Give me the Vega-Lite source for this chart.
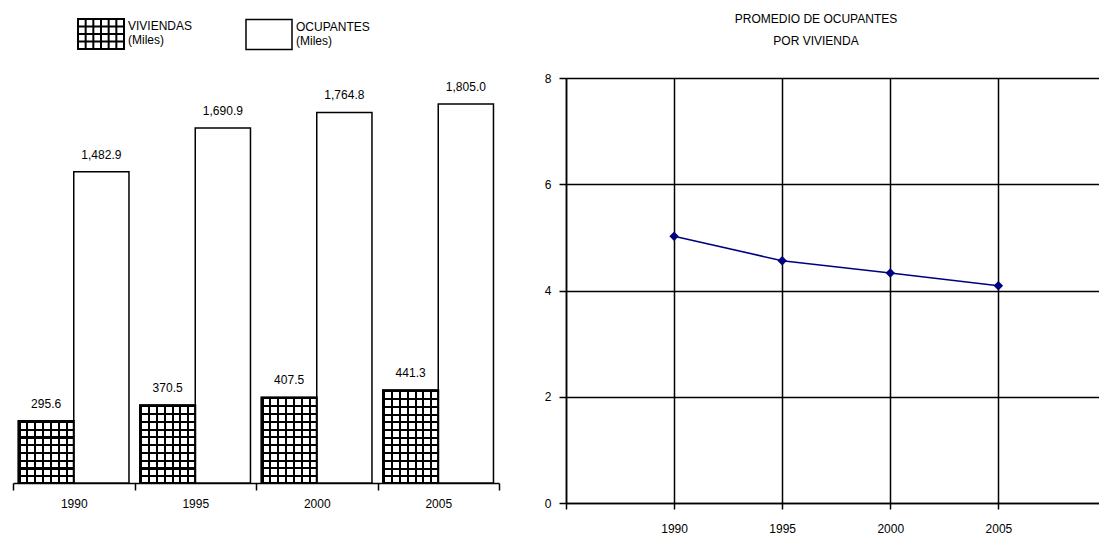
{
  "$schema": "https://vega.github.io/schema/vega-lite/v6.json",
  "padding": {"left": 12, "top": 13, "right": 0, "bottom": 0},
  "spacing": 67,
  "bounds": "flush",
  "config": {
    "font": "Liberation Sans",
    "view": {"stroke": null},
    "axis": {"labelFont": "Liberation Sans", "labelFontSize": 12, "labelColor": "black", "domainColor": "black", "tickColor": "black", "titleFont": "Liberation Sans"}
  },
  "hconcat": [
    {
      "width": 486,
      "height": 405,
      "data": {"values": [
        {"year": "1990", "serie": "VIVIENDAS", "value": 295.6},
        {"year": "1990", "serie": "OCUPANTES", "value": 1482.9},
        {"year": "1995", "serie": "VIVIENDAS", "value": 370.5},
        {"year": "1995", "serie": "OCUPANTES", "value": 1690.9},
        {"year": "2000", "serie": "VIVIENDAS", "value": 407.5},
        {"year": "2000", "serie": "OCUPANTES", "value": 1764.8},
        {"year": "2005", "serie": "VIVIENDAS", "value": 441.3},
        {"year": "2005", "serie": "OCUPANTES", "value": 1805.0}
      ]},
      "encoding": {
        "x": {"field": "year", "type": "nominal", "scale": {"paddingInner": 0, "paddingOuter": 0},
          "axis": {"title": null, "labelAngle": 0, "tickBand": "extent", "tickSize": 7, "labelPadding": 8, "domainWidth": 1.5, "tickWidth": 1.5}},
        "xOffset": {"field": "serie", "type": "nominal", "sort": ["VIVIENDAS", "OCUPANTES"], "scale": {"domain": ["VIVIENDAS", "OCUPANTES"], "paddingOuter": 0.1, "paddingInner": 0}},
        "y": {"field": "value", "type": "quantitative", "scale": {"domain": [0, 1929], "nice": false}, "axis": null}
      },
      "layer": [
        {
          "mark": {"type": "bar", "stroke": "black", "strokeWidth": 1.5},
          "encoding": {
            "fill": {"field": "serie", "type": "nominal", "scale": {"domain": ["VIVIENDAS", "OCUPANTES"], "range": ["white", "white"]},
              "legend": {
                "orient": "none", "legendX": 82, "legendY": -50, "direction": "horizontal", "columns": 2, "title": null,
                "symbolSize": 2116, "symbolStrokeColor": "black", "symbolStrokeWidth": 1.5,
                "labelExpr": "[datum.label, '(Miles)']", "labelFontSize": 12, "labelColor": "black", "labelOffset": 21, "columnPadding": 50, "labelLineHeight": 16,
                "encode": {
                  "symbols": {"update": {"shape": {"signal": "datum.value === 'VIVIENDAS' ? 'M-1,-0.65H1V0.65H-1Z M-0.667,-0.65V0.65 M-0.333,-0.65V0.65 M0,-0.65V0.65 M0.333,-0.65V0.65 M0.667,-0.65V0.65 M-1,-0.325H1 M-1,0H1 M-1,0.325H1' : 'M-1,-0.65H1V0.65H-1Z'"}, "strokeWidth": {"signal": "datum.value === 'VIVIENDAS' ? 2 : 1.5"}}},
                  "labels": {"update": {"dy": {"value": -8}}}
                }
              }
            }
          }
        },
        {
          "transform": [{"filter": "datum.serie === 'VIVIENDAS'"}],
          "mark": {"type": "bar", "strokeWidth": 0},
          "encoding": {
            "fill": {
              "condition": [
                {"test": "datum.year === '1990'", "value": {"gradient": "linear", "x1": 0, "y1": 0, "x2": 0, "y2": 1, "stops": [
                  {"offset": 0, "color": "black"}, {"offset": 0.033, "color": "black"}, {"offset": 0.033, "color": "rgba(0,0,0,0)"}, {"offset": 0.125, "color": "rgba(0,0,0,0)"},
                  {"offset": 0.125, "color": "black"}, {"offset": 0.158, "color": "black"}, {"offset": 0.158, "color": "rgba(0,0,0,0)"}, {"offset": 0.25, "color": "rgba(0,0,0,0)"},
                  {"offset": 0.25, "color": "black"}, {"offset": 0.283, "color": "black"}, {"offset": 0.283, "color": "rgba(0,0,0,0)"}, {"offset": 0.375, "color": "rgba(0,0,0,0)"},
                  {"offset": 0.375, "color": "black"}, {"offset": 0.408, "color": "black"}, {"offset": 0.408, "color": "rgba(0,0,0,0)"}, {"offset": 0.5, "color": "rgba(0,0,0,0)"},
                  {"offset": 0.5, "color": "black"}, {"offset": 0.533, "color": "black"}, {"offset": 0.533, "color": "rgba(0,0,0,0)"}, {"offset": 0.625, "color": "rgba(0,0,0,0)"},
                  {"offset": 0.625, "color": "black"}, {"offset": 0.658, "color": "black"}, {"offset": 0.658, "color": "rgba(0,0,0,0)"}, {"offset": 0.75, "color": "rgba(0,0,0,0)"},
                  {"offset": 0.75, "color": "black"}, {"offset": 0.783, "color": "black"}, {"offset": 0.783, "color": "rgba(0,0,0,0)"}, {"offset": 0.875, "color": "rgba(0,0,0,0)"},
                  {"offset": 0.875, "color": "black"}, {"offset": 0.908, "color": "black"}, {"offset": 0.908, "color": "rgba(0,0,0,0)"}, {"offset": 1, "color": "rgba(0,0,0,0)"}
                ]}},
                {"test": "datum.year === '1995'", "value": {"gradient": "linear", "x1": 0, "y1": 0, "x2": 0, "y2": 1, "stops": [
                  {"offset": 0, "color": "black"}, {"offset": 0.027, "color": "black"}, {"offset": 0.027, "color": "rgba(0,0,0,0)"}, {"offset": 0.1, "color": "rgba(0,0,0,0)"},
                  {"offset": 0.1, "color": "black"}, {"offset": 0.127, "color": "black"}, {"offset": 0.127, "color": "rgba(0,0,0,0)"}, {"offset": 0.2, "color": "rgba(0,0,0,0)"},
                  {"offset": 0.2, "color": "black"}, {"offset": 0.227, "color": "black"}, {"offset": 0.227, "color": "rgba(0,0,0,0)"}, {"offset": 0.3, "color": "rgba(0,0,0,0)"},
                  {"offset": 0.3, "color": "black"}, {"offset": 0.327, "color": "black"}, {"offset": 0.327, "color": "rgba(0,0,0,0)"}, {"offset": 0.4, "color": "rgba(0,0,0,0)"},
                  {"offset": 0.4, "color": "black"}, {"offset": 0.427, "color": "black"}, {"offset": 0.427, "color": "rgba(0,0,0,0)"}, {"offset": 0.5, "color": "rgba(0,0,0,0)"},
                  {"offset": 0.5, "color": "black"}, {"offset": 0.527, "color": "black"}, {"offset": 0.527, "color": "rgba(0,0,0,0)"}, {"offset": 0.6, "color": "rgba(0,0,0,0)"},
                  {"offset": 0.6, "color": "black"}, {"offset": 0.627, "color": "black"}, {"offset": 0.627, "color": "rgba(0,0,0,0)"}, {"offset": 0.7, "color": "rgba(0,0,0,0)"},
                  {"offset": 0.7, "color": "black"}, {"offset": 0.727, "color": "black"}, {"offset": 0.727, "color": "rgba(0,0,0,0)"}, {"offset": 0.8, "color": "rgba(0,0,0,0)"},
                  {"offset": 0.8, "color": "black"}, {"offset": 0.827, "color": "black"}, {"offset": 0.827, "color": "rgba(0,0,0,0)"}, {"offset": 0.9, "color": "rgba(0,0,0,0)"},
                  {"offset": 0.9, "color": "black"}, {"offset": 0.927, "color": "black"}, {"offset": 0.927, "color": "rgba(0,0,0,0)"}, {"offset": 1, "color": "rgba(0,0,0,0)"}
                ]}},
                {"test": "datum.year === '2000'", "value": {"gradient": "linear", "x1": 0, "y1": 0, "x2": 0, "y2": 1, "stops": [
                  {"offset": 0, "color": "black"}, {"offset": 0.024, "color": "black"}, {"offset": 0.024, "color": "rgba(0,0,0,0)"}, {"offset": 0.091, "color": "rgba(0,0,0,0)"},
                  {"offset": 0.091, "color": "black"}, {"offset": 0.115, "color": "black"}, {"offset": 0.115, "color": "rgba(0,0,0,0)"}, {"offset": 0.182, "color": "rgba(0,0,0,0)"},
                  {"offset": 0.182, "color": "black"}, {"offset": 0.206, "color": "black"}, {"offset": 0.206, "color": "rgba(0,0,0,0)"}, {"offset": 0.273, "color": "rgba(0,0,0,0)"},
                  {"offset": 0.273, "color": "black"}, {"offset": 0.297, "color": "black"}, {"offset": 0.297, "color": "rgba(0,0,0,0)"}, {"offset": 0.364, "color": "rgba(0,0,0,0)"},
                  {"offset": 0.364, "color": "black"}, {"offset": 0.388, "color": "black"}, {"offset": 0.388, "color": "rgba(0,0,0,0)"}, {"offset": 0.455, "color": "rgba(0,0,0,0)"},
                  {"offset": 0.455, "color": "black"}, {"offset": 0.479, "color": "black"}, {"offset": 0.479, "color": "rgba(0,0,0,0)"}, {"offset": 0.545, "color": "rgba(0,0,0,0)"},
                  {"offset": 0.545, "color": "black"}, {"offset": 0.569, "color": "black"}, {"offset": 0.569, "color": "rgba(0,0,0,0)"}, {"offset": 0.636, "color": "rgba(0,0,0,0)"},
                  {"offset": 0.636, "color": "black"}, {"offset": 0.66, "color": "black"}, {"offset": 0.66, "color": "rgba(0,0,0,0)"}, {"offset": 0.727, "color": "rgba(0,0,0,0)"},
                  {"offset": 0.727, "color": "black"}, {"offset": 0.751, "color": "black"}, {"offset": 0.751, "color": "rgba(0,0,0,0)"}, {"offset": 0.818, "color": "rgba(0,0,0,0)"},
                  {"offset": 0.818, "color": "black"}, {"offset": 0.842, "color": "black"}, {"offset": 0.842, "color": "rgba(0,0,0,0)"}, {"offset": 0.909, "color": "rgba(0,0,0,0)"},
                  {"offset": 0.909, "color": "black"}, {"offset": 0.933, "color": "black"}, {"offset": 0.933, "color": "rgba(0,0,0,0)"}, {"offset": 1, "color": "rgba(0,0,0,0)"}
                ]}},
                {"test": "datum.year === '2005'", "value": {"gradient": "linear", "x1": 0, "y1": 0, "x2": 0, "y2": 1, "stops": [
                  {"offset": 0, "color": "black"}, {"offset": 0.022, "color": "black"}, {"offset": 0.022, "color": "rgba(0,0,0,0)"}, {"offset": 0.083, "color": "rgba(0,0,0,0)"},
                  {"offset": 0.083, "color": "black"}, {"offset": 0.105, "color": "black"}, {"offset": 0.105, "color": "rgba(0,0,0,0)"}, {"offset": 0.167, "color": "rgba(0,0,0,0)"},
                  {"offset": 0.167, "color": "black"}, {"offset": 0.189, "color": "black"}, {"offset": 0.189, "color": "rgba(0,0,0,0)"}, {"offset": 0.25, "color": "rgba(0,0,0,0)"},
                  {"offset": 0.25, "color": "black"}, {"offset": 0.272, "color": "black"}, {"offset": 0.272, "color": "rgba(0,0,0,0)"}, {"offset": 0.333, "color": "rgba(0,0,0,0)"},
                  {"offset": 0.333, "color": "black"}, {"offset": 0.355, "color": "black"}, {"offset": 0.355, "color": "rgba(0,0,0,0)"}, {"offset": 0.417, "color": "rgba(0,0,0,0)"},
                  {"offset": 0.417, "color": "black"}, {"offset": 0.439, "color": "black"}, {"offset": 0.439, "color": "rgba(0,0,0,0)"}, {"offset": 0.5, "color": "rgba(0,0,0,0)"},
                  {"offset": 0.5, "color": "black"}, {"offset": 0.522, "color": "black"}, {"offset": 0.522, "color": "rgba(0,0,0,0)"}, {"offset": 0.583, "color": "rgba(0,0,0,0)"},
                  {"offset": 0.583, "color": "black"}, {"offset": 0.605, "color": "black"}, {"offset": 0.605, "color": "rgba(0,0,0,0)"}, {"offset": 0.667, "color": "rgba(0,0,0,0)"},
                  {"offset": 0.667, "color": "black"}, {"offset": 0.689, "color": "black"}, {"offset": 0.689, "color": "rgba(0,0,0,0)"}, {"offset": 0.75, "color": "rgba(0,0,0,0)"},
                  {"offset": 0.75, "color": "black"}, {"offset": 0.772, "color": "black"}, {"offset": 0.772, "color": "rgba(0,0,0,0)"}, {"offset": 0.833, "color": "rgba(0,0,0,0)"},
                  {"offset": 0.833, "color": "black"}, {"offset": 0.855, "color": "black"}, {"offset": 0.855, "color": "rgba(0,0,0,0)"}, {"offset": 0.917, "color": "rgba(0,0,0,0)"},
                  {"offset": 0.917, "color": "black"}, {"offset": 0.939, "color": "black"}, {"offset": 0.939, "color": "rgba(0,0,0,0)"}, {"offset": 1, "color": "rgba(0,0,0,0)"}
                ]}}
              ],
              "value": "rgba(0,0,0,0)"
            }
          }
        },
        {
          "transform": [{"filter": "datum.serie === 'VIVIENDAS'"}],
          "mark": {"type": "bar", "stroke": "black", "strokeWidth": 2, "fill": {"gradient": "linear", "x1": 0, "y1": 0, "x2": 1, "y2": 0, "stops": [
            {"offset": 0, "color": "black"}, {"offset": 0.036, "color": "black"}, {"offset": 0.036, "color": "rgba(0,0,0,0)"}, {"offset": 0.143, "color": "rgba(0,0,0,0)"},
            {"offset": 0.143, "color": "black"}, {"offset": 0.179, "color": "black"}, {"offset": 0.179, "color": "rgba(0,0,0,0)"}, {"offset": 0.286, "color": "rgba(0,0,0,0)"},
            {"offset": 0.286, "color": "black"}, {"offset": 0.321, "color": "black"}, {"offset": 0.321, "color": "rgba(0,0,0,0)"}, {"offset": 0.429, "color": "rgba(0,0,0,0)"},
            {"offset": 0.429, "color": "black"}, {"offset": 0.464, "color": "black"}, {"offset": 0.464, "color": "rgba(0,0,0,0)"}, {"offset": 0.571, "color": "rgba(0,0,0,0)"},
            {"offset": 0.571, "color": "black"}, {"offset": 0.607, "color": "black"}, {"offset": 0.607, "color": "rgba(0,0,0,0)"}, {"offset": 0.714, "color": "rgba(0,0,0,0)"},
            {"offset": 0.714, "color": "black"}, {"offset": 0.75, "color": "black"}, {"offset": 0.75, "color": "rgba(0,0,0,0)"}, {"offset": 0.857, "color": "rgba(0,0,0,0)"},
            {"offset": 0.857, "color": "black"}, {"offset": 0.893, "color": "black"}, {"offset": 0.893, "color": "rgba(0,0,0,0)"}, {"offset": 1, "color": "rgba(0,0,0,0)"}
          ]}}
        },
        {
          "mark": {"type": "text", "baseline": "bottom", "dy": -10, "fontSize": 12, "color": "black", "font": "Liberation Sans"},
          "encoding": {"text": {"field": "value", "type": "quantitative", "format": ",.1f"}}
        }
      ]
    },
    {
      "width": 534,
      "height": 425,
      "title": {"text": ["PROMEDIO DE OCUPANTES", "POR VIVIENDA"], "fontSize": 12, "fontWeight": "normal", "color": "black", "font": "Liberation Sans", "anchor": "middle", "offset": 24, "dx": -17, "lineHeight": 22},
      "data": {"values": [
        {"year": 1990, "prom": 5.02},
        {"year": 1995, "prom": 4.56},
        {"year": 2000, "prom": 4.33},
        {"year": 2005, "prom": 4.09}
      ]},
      "encoding": {
        "x": {"field": "year", "type": "quantitative", "scale": {"domain": [1985, 2009.7], "nice": false, "zero": false},
          "axis": {"title": null, "values": [1985, 1990, 1995, 2000, 2005], "format": "d", "labelExpr": "datum.value == 1985 ? '' : datum.label", "grid": true, "gridColor": "black", "gridWidth": 1.5, "gridOpacity": 1, "tickSize": 6, "labelPadding": 14, "domainWidth": 1.5, "tickWidth": 1.5}},
        "y": {"field": "prom", "type": "quantitative", "scale": {"domain": [0, 8], "nice": false},
          "axis": {"title": null, "values": [0, 2, 4, 6, 8], "grid": true, "gridColor": "black", "gridWidth": 1.5, "gridOpacity": 1, "tickSize": 7, "labelPadding": 8, "domainWidth": 1.5, "tickWidth": 1.5}}
      },
      "layer": [
        {"mark": {"type": "line", "color": "#000080", "strokeWidth": 1.5}},
        {"mark": {"type": "point", "shape": "diamond", "filled": true, "color": "#000080", "size": 90, "opacity": 1}}
      ]
    }
  ]
}
